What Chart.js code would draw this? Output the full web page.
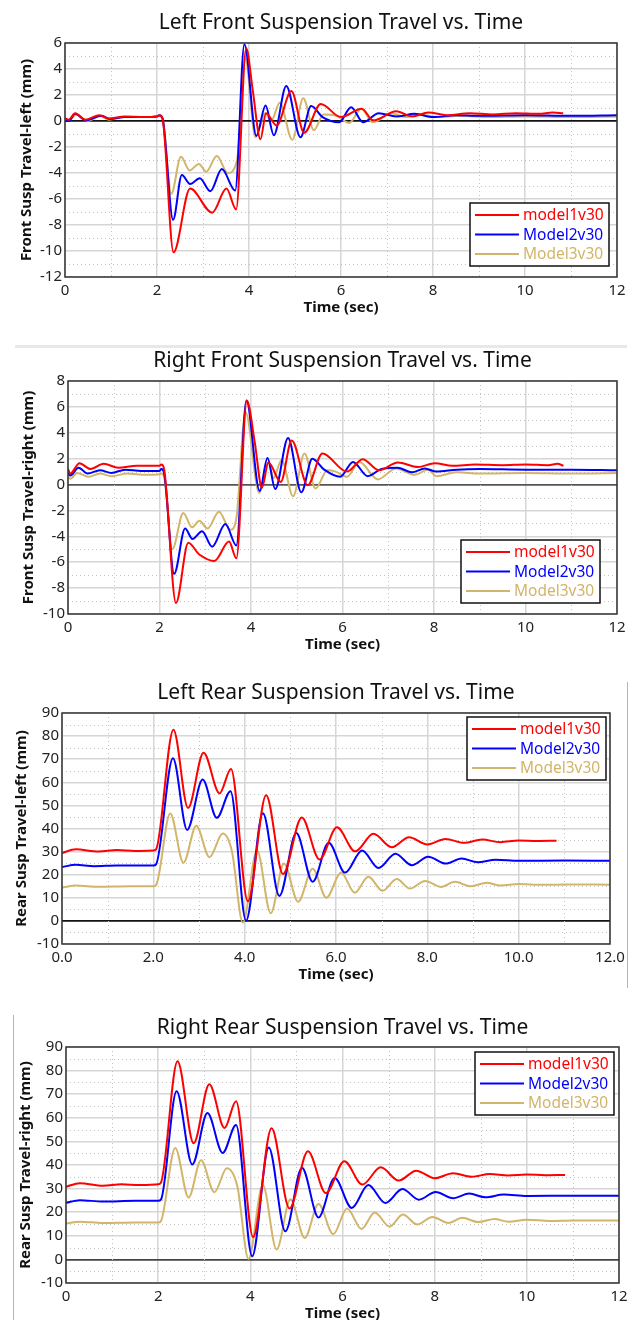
<!DOCTYPE html>
<html>
<head>
<meta charset="utf-8">
<script src="https://cdn.jsdelivr.net/npm/chart.js@4.4.0/dist/chart.umd.min.js"></script>
<style>
  body { margin: 0; background: #fff; width: 638px; height: 1320px; position: relative; overflow: hidden; }
  .box { position: absolute; left: 0; width: 638px; }
  .deco { position: absolute; }
</style>
</head>
<body>
<div class="box" style="top:0px"><canvas id="lf"></canvas></div>
<div class="deco" style="left:15px;top:345px;width:612px;height:3px;background:#e8e8e8"></div>
<div class="box" style="top:339px"><canvas id="rf"></canvas></div>
<div class="box" style="top:671px"><canvas id="lr"></canvas></div>
<div class="deco" style="left:627px;top:682px;width:1px;height:306px;background:#5fd8e6"></div>
<div class="box" style="top:1005px"><canvas id="rr"></canvas></div>
<div class="deco" style="left:13px;top:1015px;width:1px;height:305px;background:#5fd8e6"></div>
<script>
const seriesNames = ["model1v30", "Model2v30", "Model3v30"];
const seriesColors = ["#ff0000", "#0000ff", "#d2b56a"];
const timeLabels = ["0", "2", "4", "6", "8", "10", "12"];
const timeLabelsDec = ["0.0", "2.0", "4.0", "6.0", "8.0", "10.0", "12.0"];

// Left front (mm)
const lfT1 = [0, 0.08, 0.22, 0.44, 0.75, 0.95, 1.3, 1.7, 2.0, 2.06, 2.12, 2.36, 2.72, 3.2, 3.51, 3.72, 3.94, 4.08, 4.25, 4.37, 4.6, 4.92, 5.2, 5.56, 6.0, 6.45, 6.7, 7.2, 7.55, 7.9, 8.3, 8.8, 9.3, 9.8, 10.3, 10.6, 10.83];
const lfV1 = [0.2, 0.1, 0.6, 0.1, 0.45, 0.2, 0.35, 0.3, 0.35, 0.45, 0.2, -10.1, -5.2, -7.05, -5.2, -6.8, 5.6, 2.4, -1.4, 0.6, -0.35, 2.3, -0.9, 1.3, 0.3, 0.95, 0.05, 0.75, 0.35, 0.65, 0.45, 0.6, 0.5, 0.6, 0.55, 0.65, 0.6];
const lfT2 = [0, 0.08, 0.22, 0.45, 0.8, 0.97, 1.3, 1.7, 2.0, 2.05, 2.12, 2.35, 2.54, 2.72, 2.93, 3.16, 3.41, 3.7, 3.9, 4.16, 4.36, 4.54, 4.81, 5.12, 5.35, 5.6, 5.96, 6.22, 6.48, 6.82, 7.2, 7.6, 8.0, 8.5, 9.0, 10.0, 11.0, 12.0];
const lfV2 = [0.0, 0.0, 0.55, 0.05, 0.4, 0.15, 0.3, 0.3, 0.35, 0.45, 0.2, -7.6, -4.15, -4.85, -4.4, -5.4, -3.7, -5.35, 5.9, -1.15, 1.2, -1.1, 2.7, -1.25, 1.15, 0.3, -0.1, 1.05, -0.1, 0.6, 0.35, 0.55, 0.3, 0.45, 0.4, 0.45, 0.4, 0.45];
const lfT3 = [0, 0.08, 0.25, 0.5, 0.75, 0.95, 1.3, 1.7, 2.0, 2.05, 2.12, 2.31, 2.52, 2.71, 2.91, 3.07, 3.3, 3.54, 3.74, 3.92, 4.14, 4.35, 4.48, 4.67, 4.94, 5.18, 5.41, 5.62, 5.9, 6.18, 6.44, 6.69, 7.1, 7.4, 7.7, 8.1, 8.6, 9.2, 10.0, 11.0, 12.0];
const lfV3 = [0.1, 0.05, 0.5, 0.0, 0.4, 0.1, 0.3, 0.3, 0.35, 0.4, 0.2, -5.6, -2.75, -3.8, -3.3, -3.9, -2.7, -4.0, -3.0, 4.8, -1.25, 0.6, 0.0, 1.4, -1.45, 1.75, -0.7, 0.5, 0.4, -0.15, 0.95, -0.1, 0.6, 0.3, 0.5, 0.3, 0.4, 0.3, 0.35, 0.3, 0.35];

// Right front (mm)
const rfT1 = [0, 0.05, 0.25, 0.49, 0.78, 1.1, 1.5, 2.0, 2.04, 2.1, 2.36, 2.63, 2.87, 3.2, 3.52, 3.68, 3.91, 4.08, 4.24, 4.38, 4.65, 4.89, 5.24, 5.56, 6.1, 6.44, 6.8, 7.21, 7.65, 8.02, 8.4, 8.9, 9.5, 10.0, 10.5, 10.7, 10.83];
const rfV1 = [1.2, 0.85, 1.65, 1.2, 1.6, 1.3, 1.45, 1.45, 1.55, 1.2, -9.15, -4.5, -5.4, -5.9, -4.4, -5.7, 6.5, 3.3, -0.25, 1.7, 0.2, 3.4, -0.05, 2.4, 1.0, 1.95, 1.1, 1.7, 1.35, 1.65, 1.45, 1.55, 1.5, 1.55, 1.5, 1.6, 1.45];
const rfT2 = [0, 0.05, 0.23, 0.43, 0.7, 0.95, 1.25, 1.6, 2.0, 2.04, 2.1, 2.32, 2.56, 2.72, 2.93, 3.15, 3.44, 3.68, 3.9, 4.19, 4.36, 4.53, 4.81, 5.1, 5.34, 5.6, 5.95, 6.23, 6.55, 6.85, 7.2, 7.52, 7.8, 8.05, 8.5, 9.0, 10.0, 11.0, 12.0];
const rfV2 = [0.9, 0.7, 1.3, 0.85, 1.1, 0.9, 1.15, 1.05, 1.05, 1.2, 0.9, -6.9, -3.4, -4.2, -3.6, -4.8, -3.05, -4.7, 6.5, -0.5, 2.05, -0.35, 3.6, -0.6, 2.0, 1.15, 0.6, 1.75, 0.65, 1.2, 1.3, 0.95, 1.25, 1.0, 1.15, 1.2, 1.15, 1.15, 1.1];
const rfT3 = [0, 0.05, 0.2, 0.45, 0.7, 0.95, 1.3, 1.7, 2.0, 2.04, 2.1, 2.28, 2.52, 2.71, 2.87, 3.05, 3.3, 3.55, 3.68, 3.88, 4.18, 4.38, 4.49, 4.67, 4.92, 5.17, 5.41, 5.67, 5.85, 6.1, 6.37, 6.77, 7.17, 7.58, 7.87, 8.05, 8.5, 9.0, 10.0, 11.0, 12.0];
const rfV3 = [0.6, 0.45, 0.9, 0.6, 0.85, 0.65, 0.85, 0.75, 0.8, 0.85, 0.6, -5.0, -2.2, -3.3, -2.8, -3.4, -2.1, -3.5, -2.6, 5.6, -0.65, 1.7, 0.5, 1.9, -0.9, 2.4, -0.3, 1.1, 1.0, 0.6, 1.75, 0.4, 1.25, 0.75, 1.15, 0.65, 0.95, 0.85, 0.9, 0.85, 0.9];

// Left rear (mm)
const lrT1 = [0, 0.3, 0.8, 1.2, 1.6, 2.0, 2.06, 2.44, 2.76, 3.1, 3.45, 3.7, 4.07, 4.47, 4.84, 5.25, 5.64, 6.02, 6.42, 6.82, 7.22, 7.6, 8.0, 8.4, 8.8, 9.2, 9.6, 10.0, 10.4, 10.83];
const lrV1 = [29.4, 31.0, 30.0, 30.7, 30.3, 30.5, 31.0, 82.8, 48.9, 72.8, 55.2, 65.8, 8.5, 54.4, 20.3, 44.8, 26.6, 40.5, 30.1, 37.7, 31.9, 36.2, 33.1, 35.5, 33.8, 35.2, 34.1, 34.8, 34.6, 34.7];
const lrT2 = [0, 0.3, 0.7, 1.2, 2.0, 2.06, 2.43, 2.74, 3.08, 3.39, 3.69, 4.03, 4.4, 4.76, 5.13, 5.49, 5.84, 6.2, 6.57, 6.93, 7.3, 7.66, 8.02, 8.4, 8.75, 9.1, 9.5, 10.0, 11.0, 12.0];
const lrV2 = [23.3, 24.3, 23.7, 24.0, 24.0, 24.5, 70.4, 39.4, 61.2, 44.6, 56.1, 0.1, 46.6, 10.8, 38.0, 16.9, 33.8, 20.9, 30.5, 22.9, 29.1, 24.1, 27.8, 24.8, 27.0, 25.4, 26.5, 26.0, 26.1, 26.0];
const lrT3 = [0, 0.3, 0.8, 1.5, 2.0, 2.06, 2.37, 2.66, 2.94, 3.23, 3.52, 3.72, 3.96, 4.27, 4.57, 4.86, 5.17, 5.49, 5.79, 6.11, 6.41, 6.71, 7.02, 7.33, 7.62, 7.95, 8.3, 8.6, 8.95, 9.3, 9.6, 10.0, 10.5, 11.0, 12.0];
const lrV3 = [14.4, 15.3, 14.8, 15.0, 15.0, 15.5, 46.5, 25.2, 41.2, 27.6, 37.8, 30.2, -0.8, 30.6, 3.3, 24.9, 8.3, 22.6, 10.0, 20.9, 12.2, 19.1, 13.0, 18.1, 14.0, 17.3, 14.7, 16.9, 15.0, 16.5, 15.3, 16.0, 15.6, 15.8, 15.7];

// Right rear (mm)
const rrT1 = [0, 0.3, 0.8, 1.2, 1.6, 2.0, 2.06, 2.42, 2.77, 3.11, 3.44, 3.69, 4.06, 4.46, 4.85, 5.25, 5.64, 6.04, 6.43, 6.83, 7.22, 7.6, 8.0, 8.4, 8.8, 9.2, 9.6, 10.0, 10.4, 10.83];
const rrV1 = [30.8, 32.3, 31.2, 31.8, 31.5, 31.8, 32.5, 84.0, 49.2, 74.2, 55.7, 67.0, 9.5, 55.6, 21.6, 45.8, 28.1, 41.6, 31.7, 39.0, 33.4, 37.6, 34.4, 36.5, 35.0, 36.2, 35.6, 36.0, 35.7, 35.8];
const rrT2 = [0, 0.3, 0.8, 1.5, 2.0, 2.06, 2.4, 2.74, 3.07, 3.4, 3.69, 4.04, 4.4, 4.76, 5.12, 5.48, 5.83, 6.2, 6.56, 6.93, 7.3, 7.66, 8.02, 8.4, 8.75, 9.1, 9.5, 10.0, 11.0, 12.0];
const rrV2 = [24.0, 25.1, 24.5, 24.8, 24.8, 25.3, 71.2, 40.2, 62.0, 45.1, 57.0, 1.3, 47.4, 11.9, 38.8, 17.8, 34.5, 21.8, 31.5, 23.9, 29.8, 25.3, 28.6, 25.9, 27.9, 26.3, 27.5, 26.9, 27.0, 27.0];
const rrT3 = [0, 0.3, 0.8, 1.5, 2.0, 2.06, 2.37, 2.66, 2.93, 3.22, 3.49, 3.72, 3.96, 4.27, 4.57, 4.87, 5.18, 5.48, 5.8, 6.1, 6.41, 6.7, 7.02, 7.31, 7.62, 7.95, 8.3, 8.6, 8.95, 9.3, 9.6, 10.0, 10.5, 11.0, 12.0];
const rrV3 = [15.2, 16.0, 15.4, 15.6, 15.6, 16.2, 47.2, 26.2, 42.0, 28.5, 38.6, 30.8, 0.2, 31.5, 4.2, 25.5, 9.1, 23.5, 10.7, 21.6, 12.9, 19.9, 13.9, 19.0, 14.8, 18.0, 15.4, 17.6, 15.8, 17.1, 16.0, 16.8, 16.3, 16.5, 16.5];

// dotted half-step grid lines, drawn through the chart scales
const minorGrid = {
  id: "minorGrid",
  beforeDatasetsDraw(chart, args, o) {
    const { ctx, chartArea: a, scales: { x, y } } = chart;
    ctx.save();
    ctx.strokeStyle = "#c2c2c2";
    ctx.lineWidth = 1;
    ctx.setLineDash([1, 3]);
    ctx.beginPath();
    for (let v = x.min + o.xStep / 2; v < x.max; v += o.xStep) {
      const px = Math.round(x.getPixelForValue(v)) + 0.5;
      ctx.moveTo(px, a.top); ctx.lineTo(px, a.bottom);
    }
    for (let v = y.min + o.yStep / 2; v < y.max; v += o.yStep) {
      const py = Math.round(y.getPixelForValue(v)) + 0.5;
      ctx.moveTo(a.left, py); ctx.lineTo(a.right, py);
    }
    ctx.stroke();
    ctx.restore();
  },
};

// plot frame, title centred on the plot, boxed legend inside the plot
const frameLegend = {
  id: "frameLegend",
  afterDatasetsDraw(chart, args, o) {
    const { ctx, chartArea: a } = chart;
    ctx.save();
    ctx.strokeStyle = "#333";
    ctx.lineWidth = 1.5;
    ctx.strokeRect(a.left, a.top, a.right - a.left, a.bottom - a.top);

    ctx.fillStyle = "#111";
    ctx.font = '21px "Noto Sans"';
    ctx.textAlign = "center";
    ctx.textBaseline = "middle";
    ctx.fillText(o.title, (a.left + a.right) / 2, o.titleY);

    const w = 139, h = 63;
    const bx = a.right - o.dx - w;
    const by = o.atTop ? a.top + o.dy : a.bottom - o.dy - h;
    ctx.fillStyle = "#fff";
    ctx.fillRect(bx, by, w, h);
    ctx.strokeStyle = "#111";
    ctx.strokeRect(bx, by, w, h);
    ctx.font = '15.5px "Noto Sans"';
    ctx.textAlign = "left";
    chart.data.datasets.forEach((ds, i) => {
      const cy = by + 12 + i * 19.5;
      ctx.strokeStyle = ds.borderColor;
      ctx.lineWidth = 2;
      ctx.beginPath(); ctx.moveTo(bx + 5, cy); ctx.lineTo(bx + 49, cy); ctx.stroke();
      ctx.fillStyle = ds.borderColor;
      ctx.fillText(ds.label, bx + 53, cy + 1);
    });
    ctx.restore();
  },
};

function makeChart(id, c) {
  const cv = document.getElementById(id);
  cv.width = 638;
  cv.height = c.plotBottom + 40;
  const series = [[c.t1, c.v1], [c.t2, c.v2], [c.t3, c.v3]];
  return new Chart(cv.getContext("2d"), {
    type: "line",
    data: {
      datasets: series.map(([ts, vs], k) => ({
        label: seriesNames[k],
        data: ts.map((t, i) => ({ x: t, y: vs[i] })),
        borderColor: seriesColors[k],
        borderWidth: 2,
        pointRadius: 0,
        fill: false,
        cubicInterpolationMode: "monotone",
      })),
    },
    plugins: [minorGrid, frameLegend],
    options: {
      responsive: false,
      animation: false,
      layout: { padding: { left: 0, right: 638 - c.right, top: c.plotTop, bottom: 0 } },
      plugins: {
        legend: { display: false },
        tooltip: { enabled: false },
        title: { display: false },
        minorGrid: { xStep: 2, yStep: c.yStep },
        frameLegend: { ...c.legend, title: c.title, titleY: c.titleY },
      },
      scales: {
        x: {
          type: "linear",
          min: 0,
          max: 12,
          afterFit: (s) => { s.height = 40; },
          ticks: {
            stepSize: 2,
            padding: 5,
            color: "#222",
            font: { family: "Noto Sans", size: 15 },
            maxRotation: 0,
            callback: (v) => c.xLabels[v / 2],
          },
          grid: { color: "#d6d6d6", lineWidth: 1.5, drawTicks: false },
          border: { display: false },
          title: {
            display: true,
            text: "Time (sec)",
            color: "#111",
            font: { family: "Noto Sans", size: 15, weight: "bold" },
            padding: { top: 0, bottom: 0 },
          },
        },
        y: {
          min: c.yMin,
          max: c.yMax,
          afterFit: (s) => { s.width = c.left; },
          ticks: {
            stepSize: c.yStep,
            padding: 3,
            color: "#222",
            font: { family: "Noto Sans", size: 15 },
          },
          grid: {
            drawTicks: false,
            color: (ctx) => (ctx.tick.value === 0 ? c.zeroColor : "#d6d6d6"),
            lineWidth: (ctx) => (ctx.tick.value === 0 ? 1.8 : 1.5),
          },
          border: { display: false },
          title: {
            display: true,
            text: c.yTitle,
            color: "#111",
            font: { family: "Noto Sans", size: 15, weight: "bold" },
            padding: { top: c.yTitleX - 9, bottom: 0 },
          },
        },
      },
    },
  });
}

makeChart("lf", {
  title: "Left Front Suspension Travel vs. Time", yTitle: "Front Susp Travel-left (mm)",
  t1: lfT1, v1: lfV1, t2: lfT2, v2: lfV2, t3: lfT3, v3: lfV3,
  yMin: -12, yMax: 6, yStep: 2, xLabels: timeLabels,
  left: 65, right: 617, titleY: 23, plotTop: 43, plotBottom: 277, yTitleX: 27, zeroColor: "#111",
  legend: { atTop: false, dx: 8, dy: 11 },
});
makeChart("rf", {
  title: "Right Front Suspension Travel vs. Time", yTitle: "Front Susp Travel-right (mm)",
  t1: rfT1, v1: rfV1, t2: rfT2, v2: rfV2, t3: rfT3, v3: rfV3,
  yMin: -10, yMax: 8, yStep: 2, xLabels: timeLabels,
  left: 68, right: 617, titleY: 22, plotTop: 42, plotBottom: 275, yTitleX: 29, zeroColor: "#555",
  legend: { atTop: false, dx: 17, dy: 11 },
});
makeChart("lr", {
  title: "Left Rear Suspension Travel vs. Time", yTitle: "Rear Susp Travel-left (mm)",
  t1: lrT1, v1: lrV1, t2: lrT2, v2: lrV2, t3: lrT3, v3: lrV3,
  yMin: -10, yMax: 90, yStep: 10, xLabels: timeLabelsDec,
  left: 62, right: 610, titleY: 22, plotTop: 42, plotBottom: 273, yTitleX: 22, zeroColor: "#111",
  legend: { atTop: true, dx: 4, dy: 4 },
});
makeChart("rr", {
  title: "Right Rear Suspension Travel vs. Time", yTitle: "Rear Susp Travel-right (mm)",
  t1: rrT1, v1: rrV1, t2: rrT2, v2: rrV2, t3: rrT3, v3: rrV3,
  yMin: -10, yMax: 90, yStep: 10, xLabels: timeLabels,
  left: 66, right: 619, titleY: 23, plotTop: 42, plotBottom: 278, yTitleX: 26, zeroColor: "#444",
  legend: { atTop: true, dx: 5, dy: 5 },
});
</script>
</body>
</html>
